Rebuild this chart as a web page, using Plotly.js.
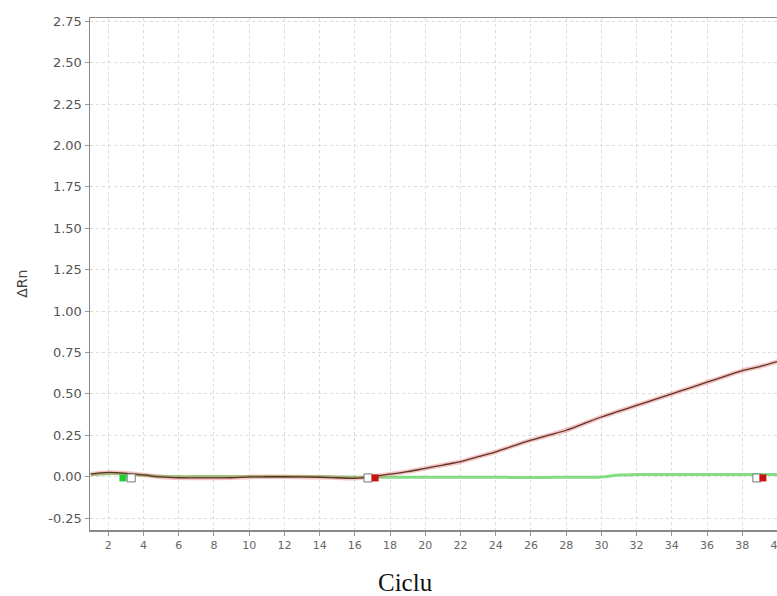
<!DOCTYPE html>
<html>
<head>
<meta charset="utf-8">
<script src="https://cdn.plot.ly/plotly-3.0.1.min.js"></script>
<style>
html,body{margin:0;padding:0;overflow:hidden;background:#fff;}
#chart{width:800px;height:596px;}
</style>
</head>
<body>
<div id="chart"></div>
<script>
// Cycles
const cycles = [1,2,3,4,5,6,7,8,9,10,11,12,13,14,15,16,17,18,19,20,21,22,23,24,25,26,27,28,29,30,31,32,33,34,35,36,37,38,39,40];
// Sample (red) delta Rn
const redRn = [0.015,0.025,0.02,0.01,-0.002,-0.007,-0.008,-0.008,-0.007,-0.002,-0.001,-0.001,-0.002,-0.004,-0.007,-0.01,0.0,0.015,0.03,0.05,0.07,0.09,0.12,0.15,0.185,0.22,0.25,0.28,0.32,0.36,0.395,0.43,0.465,0.50,0.535,0.57,0.605,0.64,0.665,0.695];
// Control (green) delta Rn
const greenRn = [0.012,0.018,0.016,0.008,0.002,0.0,0.0,0.0,0.0,0.0,0.0,0.0,0.0,0.0,-0.002,-0.003,-0.004,-0.004,-0.004,-0.004,-0.004,-0.004,-0.004,-0.004,-0.005,-0.006,-0.005,-0.004,-0.004,-0.003,0.01,0.012,0.012,0.012,0.012,0.012,0.012,0.012,0.012,0.012];
// Baseline markers
const startFilledX = [2.83, 17.15, 39.17];
const startFilledY = [-0.008, -0.008, -0.008];
const startFilledColor = ['#22cc33', '#cc1111', '#cc1111'];
const startBoxX = [3.3, 16.75, 38.83];
const startBoxY = [-0.008, -0.008, -0.008];
// Axis ticks
const xTicks = [2,4,6,8,10,12,14,16,18,20,22,24,26,28,30,32,34,36,38,40];
const yTicks = [-0.25,0,0.25,0.5,0.75,1,1.25,1.5,1.75,2,2.25,2.5,2.75];
const yTickText = ['-0.25','0.00','0.25','0.50','0.75','1.00','1.25','1.50','1.75','2.00','2.25','2.50','2.75'];

const traces = [
  {x: cycles, y: greenRn, mode: 'lines', line: {color: 'rgba(110,215,110,0.85)', width: 3, shape: 'spline'}},
  {x: cycles, y: redRn, mode: 'lines', line: {color: 'rgba(240,120,120,0.45)', width: 4.5, shape: 'spline'}, hoverinfo: 'skip'},
  {x: cycles, y: redRn, mode: 'lines', line: {color: 'rgba(70,40,25,0.9)', width: 1.3, shape: 'spline'}},
  {x: startBoxX, y: startBoxY, mode: 'markers', marker: {symbol: 'square', size: 8, color: '#ffffff', line: {color: '#777', width: 1}}},
  {x: startFilledX, y: startFilledY, mode: 'markers', marker: {symbol: 'square', size: 7, color: startFilledColor, line: {width: 0}}}
];

const layout = {
  width: 800, height: 596,
  margin: {l: 90, r: 10, t: 18, b: 66},
  paper_bgcolor: '#ffffff', plot_bgcolor: '#ffffff',
  showlegend: false,
  font: {family: 'DejaVu Sans, Arial, sans-serif', color: '#555'},
  xaxis: {
    range: [0.96, 40.71],
    tickvals: xTicks,
    tickfont: {size: 11, color: '#666'},
    ticks: 'outside', ticklen: 4, tickcolor: '#999',
    showline: true, linecolor: '#888', linewidth: 1.5, mirror: true,
    showgrid: true, gridcolor: '#dcdcdc', griddash: 'dot', gridwidth: 1,
    zeroline: false
  },
  yaxis: {
    range: [-0.3225, 2.77],
    tickvals: yTicks, ticktext: yTickText,
    tickfont: {size: 13, color: '#555'},
    ticks: 'outside', ticklen: 4, tickcolor: '#999',
    showline: true, linecolor: '#888', linewidth: 1.5,
    showgrid: true, gridcolor: '#dcdcdc', griddash: 'dot', gridwidth: 1,
    zeroline: false
  },
  annotations: [
    {text: 'ΔRn', xref: 'paper', yref: 'paper', x: -0.0964, y: 0.48, textangle: -90,
     showarrow: false, xanchor: 'center', yanchor: 'middle', font: {size: 14, color: '#444'}},
    {text: 'Ciclu', xref: 'paper', yref: 'paper', x: 0.45, y: -0.1016,
     showarrow: false, xanchor: 'center', yanchor: 'middle',
     font: {family: 'Liberation Serif, Times New Roman, serif', size: 25, color: '#111'}}
  ]
};

Plotly.newPlot('chart', traces, layout, {displayModeBar: false, staticPlot: true});
</script>
</body>
</html>
